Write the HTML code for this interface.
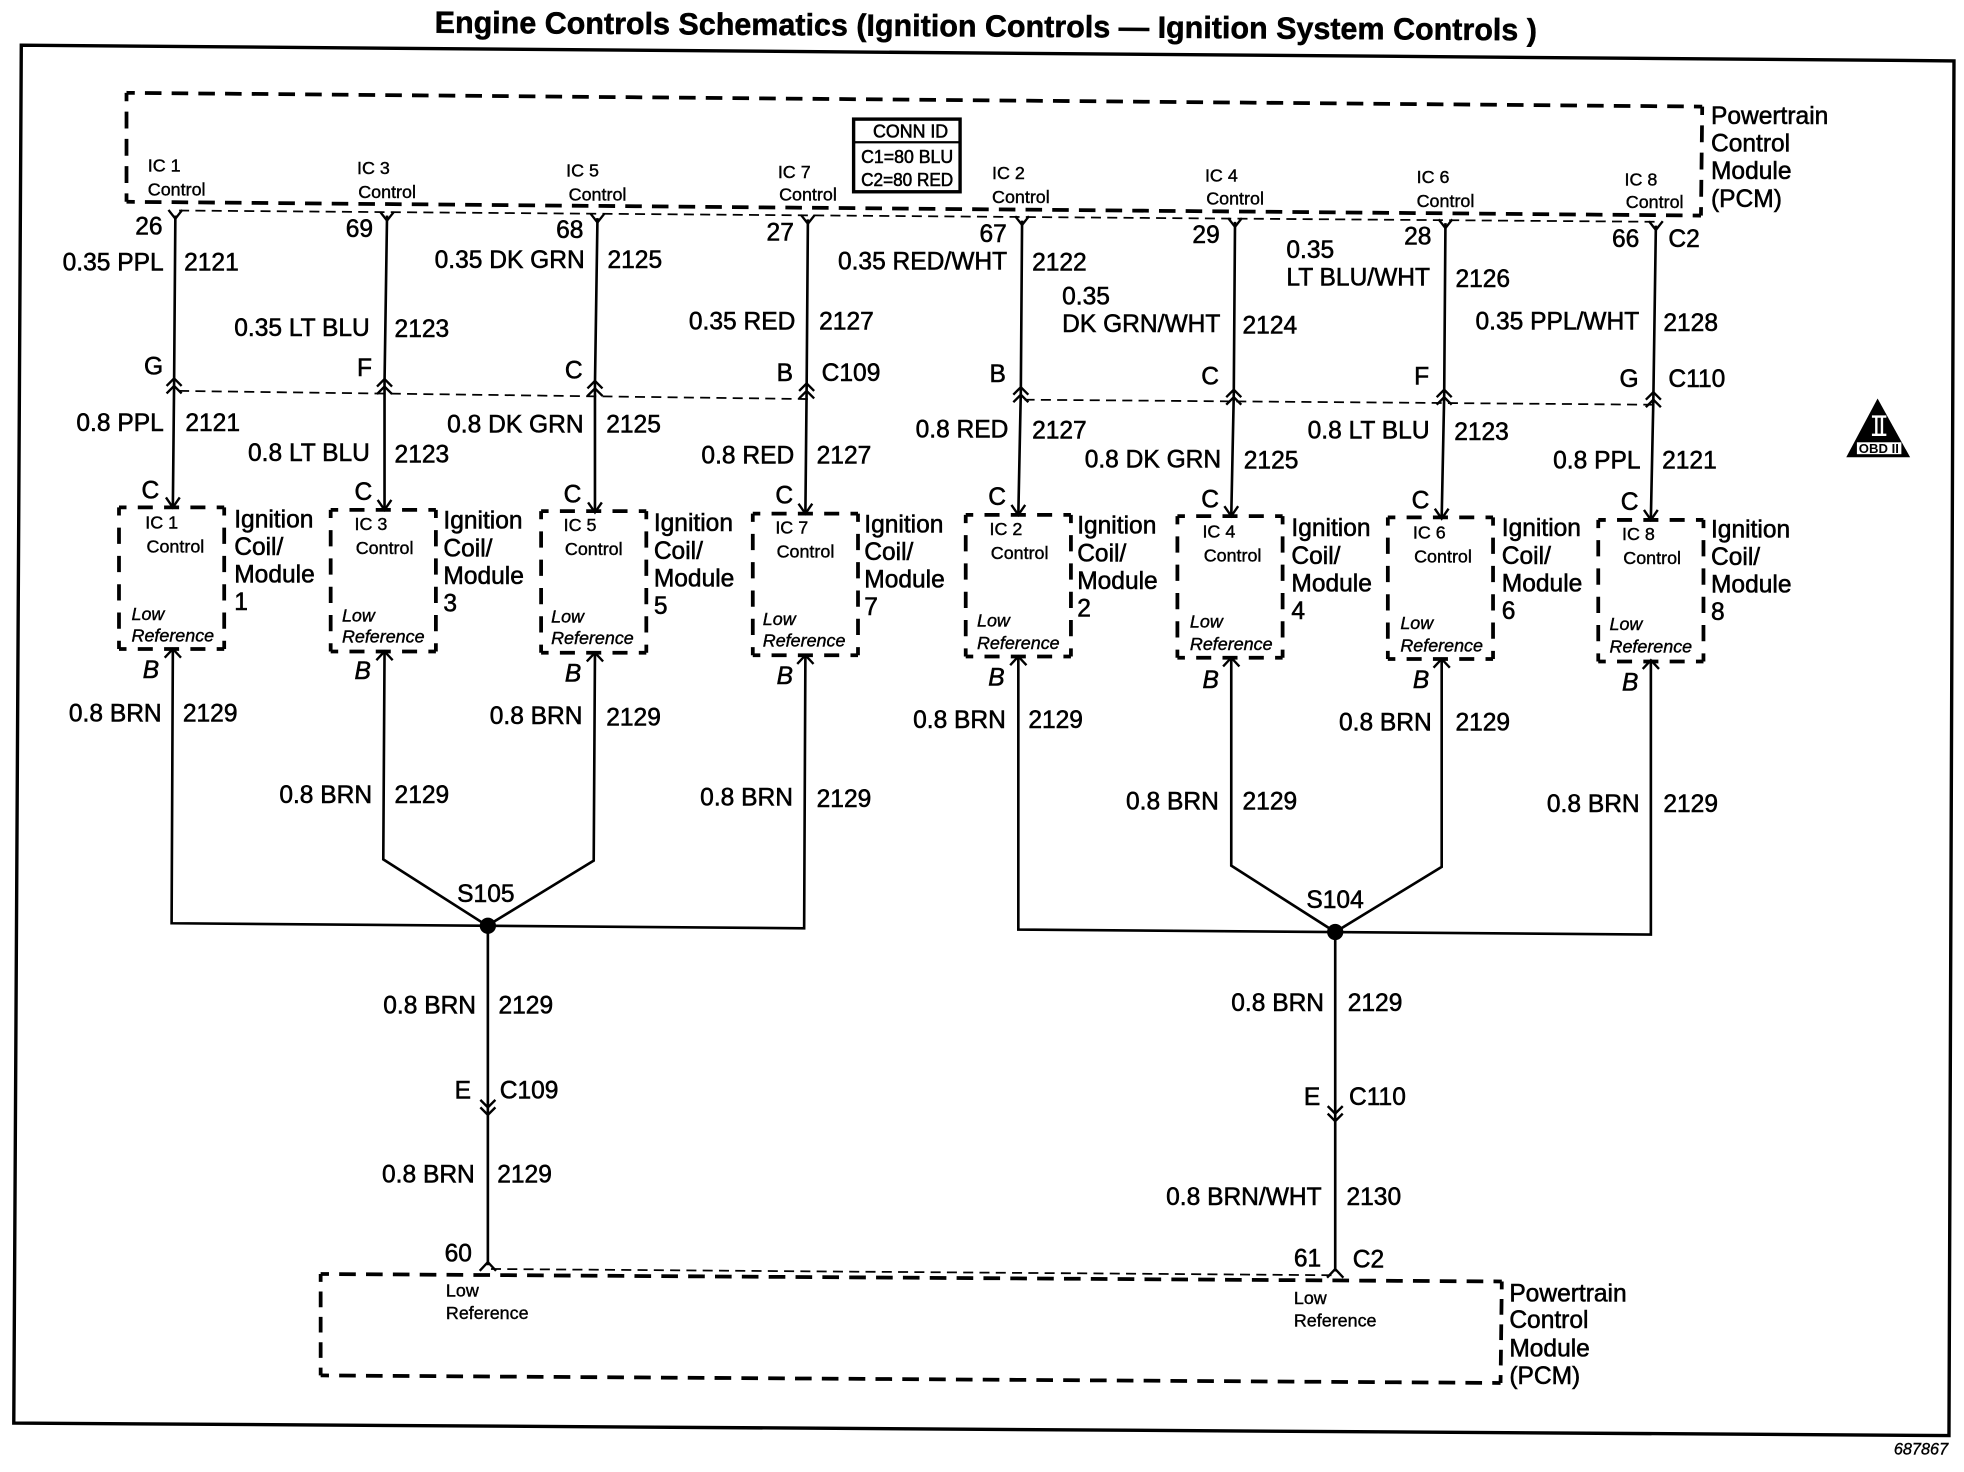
<!DOCTYPE html>
<html><head><meta charset="utf-8"><title>Engine Controls Schematics</title>
<style>
html,body{margin:0;padding:0;background:#fff}
svg{display:block}
text{font-family:"Liberation Sans",sans-serif;fill:#000;stroke:#000;stroke-width:.45}
.m text{font-size:19.6px}
.s text{font-size:14.3px;stroke-width:.32}
.i text{font-style:italic}
.w{fill:none;stroke:#000;stroke-width:2.1}
.d{fill:none;stroke:#000;stroke-width:3;stroke-dasharray:.62 .38;stroke-dashoffset:.31}
.h{fill:none;stroke:#000;stroke-width:3;stroke-dasharray:12 9;stroke-dashoffset:6}
.v{fill:none;stroke:#000;stroke-width:3;stroke-dasharray:13 9.6;stroke-dashoffset:6.5}
.t{fill:none;stroke:#000;stroke-width:1.4;stroke-dasharray:8 5}
.c{fill:none;stroke:#000;stroke-width:1.9}
</style></head><body>
<svg width="1964" height="1472" viewBox="0 0 1568 1175" xmlns="http://www.w3.org/2000/svg">
<defs>
<path id="fd" class="c" d="M-5.5,-7L0,0L5.5,-7"/>
<path id="fu" class="c" d="M-6.5,7L0,0L6.5,7"/>
<path id="ar" class="c" d="M-5.5,-8L0,0L5.5,-8"/>
<g id="up"><path class="c" d="M-6,6L0,0L6,6"/><path class="c" d="M-6,12L0,6L6,12"/></g>
<g id="dn"><path class="c" d="M-6,-6L0,0L6,-6"/><path class="c" d="M-6,0L0,6L6,0"/></g>
</defs>
<rect width="1568" height="1175" fill="#fff"/>
<text x="347" y="26" transform="rotate(.4 347 26)" textLength="880" lengthAdjust="spacingAndGlyphs" style="font-size:24.5px;font-weight:700;stroke-width:.4">Engine Controls Schematics (Ignition Controls — Ignition System Controls )</text>
<path d="M17,36L1560,48.5L1556,1146L11,1136Z" fill="none" stroke="#000" stroke-width="2.7"/>
<path class="d" pathLength="59" d="M101,74L1359,85"/>
<path class="d" pathLength="59" d="M101,161L1358,172"/>
<path class="d" pathLength="4" d="M101,74V161"/>
<path class="d" pathLength="4" d="M1359,85L1358,172"/>
<path class="d" pathLength="44" d="M256,1017L1199,1023"/>
<path class="d" pathLength="44" d="M256,1098L1198,1104"/>
<path class="d" pathLength="4" d="M256,1017V1098"/>
<path class="d" pathLength="4" d="M1199,1023L1198,1104"/>
<path class="t" d="M143,168L1325,177"/>
<path class="t" d="M143,312L645,318.5"/>
<path class="t" d="M818,319L1320,323"/>
<path class="t" d="M392,1013L1066,1018"/>
<path class="h" d="M95,405H179M95,518H179M264,407H348M264,520H348M432,408H516M432,521H516M601,410H685M601,523H685M771,411H855M771,524H855M940,412H1024M940,525H1024M1108,413H1192M1108,526H1192M1276,415H1360M1276,528H1360"/>
<path class="v" d="M95,405V518M179,405V518M264,407V520M348,407V520M432,408V521M516,408V521M601,410V523M685,410V523M771,411V524M855,411V524M940,412V525M1024,412V525M1108,413V526M1192,413V526M1276,415V528M1360,415V528"/>
<path class="w" d="M140,172L139,305L138,405"/>
<path class="w" d="M309,172L307,305L307,407"/>
<path class="w" d="M477,174L475,307L475,409"/>
<path class="w" d="M645,175L644,309L643,410"/>
<path class="w" d="M816,176L815,312L813,411"/>
<path class="w" d="M986,177L985,315L983,412"/>
<path class="w" d="M1154,178L1153,315L1151,413"/>
<path class="w" d="M1322,180L1320,318L1318,414"/>
<path class="w" d="M138,519L137,737L642,741L643,523"/>
<path class="w" d="M307,521L306,686L389,739L474,687L475,521"/>
<path class="w" d="M813,525L813,742L1318,746L1318,527"/>
<path class="w" d="M983,525L983,691L1066,744L1151,692L1151,526"/>
<path class="w" d="M389.5,739V1010"/>
<path class="w" d="M1066,744V1015"/>
<circle cx="389.5" cy="739" r="6.5"/>
<circle cx="1066" cy="744" r="6.5"/>
<use href="#fd" x="140" y="174.5"/><use href="#fd" x="309" y="176"/><use href="#fd" x="477" y="177.5"/><use href="#fd" x="645" y="178.5"/><use href="#fd" x="816" y="179.5"/><use href="#fd" x="986" y="181"/><use href="#fd" x="1154" y="182"/><use href="#fd" x="1322" y="183.5"/>
<use href="#up" x="139" y="302"/><use href="#up" x="307" y="302.5"/><use href="#up" x="475" y="304"/><use href="#up" x="644" y="306"/><use href="#up" x="815" y="309"/><use href="#up" x="985" y="311"/><use href="#up" x="1153" y="311"/><use href="#up" x="1320" y="313"/>
<use href="#ar" x="138" y="405"/><use href="#ar" x="307" y="407"/><use href="#ar" x="475" y="409"/><use href="#ar" x="643" y="410"/><use href="#ar" x="813" y="411"/><use href="#ar" x="983" y="412"/><use href="#ar" x="1151" y="414"/><use href="#ar" x="1318" y="415"/>
<use href="#fu" x="138" y="518"/><use href="#fu" x="307" y="520"/><use href="#fu" x="475" y="521"/><use href="#fu" x="643" y="523"/><use href="#fu" x="813" y="524"/><use href="#fu" x="983" y="525"/><use href="#fu" x="1151" y="526"/><use href="#fu" x="1318" y="527"/>
<use href="#dn" x="389.5" y="884"/><use href="#dn" x="1066" y="889"/>
<use href="#fu" x="389.5" y="1007.5"/><use href="#fu" x="1066" y="1013"/>
<rect x="681.5" y="95" width="85" height="58" fill="#fff" stroke="#000" stroke-width="2.7"/>
<path d="M682,113.5H767" stroke="#000" stroke-width="1.8"/>
<text x="697" y="109.5" textLength="60" lengthAdjust="spacingAndGlyphs" style="font-size:14.4px">CONN ID</text>
<text x="687.5" y="130" textLength="73.5" lengthAdjust="spacingAndGlyphs" style="font-size:14.4px">C1=80 BLU</text>
<text x="687.5" y="148.5" textLength="73.5" lengthAdjust="spacingAndGlyphs" style="font-size:14.4px">C2=80 RED</text>
<path d="M1499,318L1525,365H1474Z" fill="#000"/>
<path d="M1494.5,332.5H1506M1494.5,347H1506M1498,332V347M1502.5,332V347" stroke="#fff" stroke-width="1.9" fill="none"/>
<rect x="1482.5" y="353" width="35.5" height="9.5" fill="#fff"/>
<text x="1484" y="361.5" textLength="32" lengthAdjust="spacingAndGlyphs" style="font-size:10px;font-weight:700;stroke:none">OBD II</text>
<g class="m">
<text x="108" y="187">26</text><text x="276" y="189">69</text><text x="444" y="190">68</text><text x="612" y="192">27</text><text x="782" y="193">67</text><text x="952" y="194">29</text><text x="1121" y="195">28</text><text x="1287" y="197">66</text><text x="1332" y="197">C2</text>
<text x="50" y="216">0.35 PPL</text><text x="147" y="216">2121</text>
<text x="187" y="268">0.35 LT BLU</text><text x="315" y="269">2123</text>
<text x="347" y="214">0.35 DK GRN</text><text x="485" y="214">2125</text>
<text x="550" y="263">0.35 RED</text><text x="654" y="263">2127</text>
<text x="669" y="215">0.35 RED/WHT</text><text x="824" y="216">2122</text>
<text x="848" y="243">0.35</text><text x="848" y="265">DK GRN/WHT</text><text x="992" y="266">2124</text>
<text x="1027" y="206">0.35</text><text x="1027" y="228">LT BLU/WHT</text><text x="1162" y="229">2126</text>
<text x="1178" y="263">0.35 PPL/WHT</text><text x="1328" y="264">2128</text>
<text x="115" y="299">G</text><text x="285" y="300">F</text><text x="451" y="302">C</text><text x="620" y="304">B</text><text x="656" y="304">C109</text><text x="790" y="305">B</text><text x="959" y="307">C</text><text x="1129" y="307">F</text><text x="1293" y="309">G</text><text x="1332" y="309">C110</text>
<text x="61" y="344">0.8 PPL</text><text x="148" y="344">2121</text>
<text x="198" y="368">0.8 LT BLU</text><text x="315" y="369">2123</text>
<text x="357" y="345">0.8 DK GRN</text><text x="484" y="345">2125</text>
<text x="560" y="370">0.8 RED</text><text x="652" y="370">2127</text>
<text x="731" y="349">0.8 RED</text><text x="824" y="350">2127</text>
<text x="866" y="373">0.8 DK GRN</text><text x="993" y="374">2125</text>
<text x="1044" y="350">0.8 LT BLU</text><text x="1161" y="351">2123</text>
<text x="1240" y="374">0.8 PPL</text><text x="1327" y="374">2121</text>
<text x="113" y="398">C</text><text x="283" y="399">C</text><text x="450" y="401">C</text><text x="619" y="402">C</text><text x="789" y="403">C</text><text x="959" y="405">C</text><text x="1127" y="406">C</text><text x="1294" y="407">C</text>
<text x="187" y="421">Ignition</text><text x="187" y="443">Coil/</text><text x="187" y="465">Module</text><text x="187" y="487">1</text>
<text x="354" y="422">Ignition</text><text x="354" y="444">Coil/</text><text x="354" y="466">Module</text><text x="354" y="488">3</text>
<text x="522" y="424">Ignition</text><text x="522" y="446">Coil/</text><text x="522" y="468">Module</text><text x="522" y="490">5</text>
<text x="690" y="425">Ignition</text><text x="690" y="447">Coil/</text><text x="690" y="469">Module</text><text x="690" y="491">7</text>
<text x="860" y="426">Ignition</text><text x="860" y="448">Coil/</text><text x="860" y="470">Module</text><text x="860" y="492">2</text>
<text x="1031" y="428">Ignition</text><text x="1031" y="450">Coil/</text><text x="1031" y="472">Module</text><text x="1031" y="494">4</text>
<text x="1199" y="428">Ignition</text><text x="1199" y="450">Coil/</text><text x="1199" y="472">Module</text><text x="1199" y="494">6</text>
<text x="1366" y="429">Ignition</text><text x="1366" y="451">Coil/</text><text x="1366" y="473">Module</text><text x="1366" y="495">8</text>
<text x="55" y="576">0.8 BRN</text><text x="146" y="576">2129</text>
<text x="223" y="641">0.8 BRN</text><text x="315" y="641">2129</text>
<text x="391" y="578">0.8 BRN</text><text x="484" y="579">2129</text>
<text x="559" y="643">0.8 BRN</text><text x="652" y="644">2129</text>
<text x="729" y="581">0.8 BRN</text><text x="821" y="581">2129</text>
<text x="899" y="646">0.8 BRN</text><text x="992" y="646">2129</text>
<text x="1069" y="583">0.8 BRN</text><text x="1162" y="583">2129</text>
<text x="1235" y="648">0.8 BRN</text><text x="1328" y="648">2129</text>
<text x="365" y="720">S105</text><text x="1043" y="725">S104</text>
<text x="306" y="809">0.8 BRN</text><text x="398" y="809">2129</text>
<text x="363" y="877">E</text><text x="399" y="877">C109</text>
<text x="305" y="944">0.8 BRN</text><text x="397" y="944">2129</text>
<text x="355" y="1007">60</text>
<text x="983" y="807">0.8 BRN</text><text x="1076" y="807">2129</text>
<text x="1041" y="882">E</text><text x="1077" y="882">C110</text>
<text x="931" y="962">0.8 BRN/WHT</text><text x="1075" y="962">2130</text>
<text x="1033" y="1011">61</text><text x="1080" y="1012">C2</text>
<text x="1366" y="99">Powertrain</text><text x="1366" y="121">Control</text><text x="1366" y="143">Module</text><text x="1366" y="165">(PCM)</text>
<text x="1205" y="1039">Powertrain</text><text x="1205" y="1060">Control</text><text x="1205" y="1083">Module</text><text x="1205" y="1105">(PCM)</text>
</g>
<g class="m i">
<text x="114" y="541">B</text><text x="283" y="542">B</text><text x="451" y="544">B</text><text x="620" y="546">B</text><text x="789" y="547">B</text><text x="960" y="549">B</text><text x="1128" y="549">B</text><text x="1295" y="551">B</text>
</g>
<g class="s">
<text x="118" y="137">IC 1</text><text x="118" y="156">Control</text>
<text x="285" y="139">IC 3</text><text x="286" y="158">Control</text>
<text x="452" y="141">IC 5</text><text x="454" y="160">Control</text>
<text x="621" y="142">IC 7</text><text x="622" y="160">Control</text>
<text x="792" y="143">IC 2</text><text x="792" y="162">Control</text>
<text x="962" y="145">IC 4</text><text x="963" y="163">Control</text>
<text x="1131" y="146">IC 6</text><text x="1131" y="165">Control</text>
<text x="1297" y="148">IC 8</text><text x="1298" y="166">Control</text>
<text x="116" y="422">IC 1</text><text x="117" y="441">Control</text>
<text x="283" y="423">IC 3</text><text x="284" y="442">Control</text>
<text x="450" y="424">IC 5</text><text x="451" y="443">Control</text>
<text x="619" y="426">IC 7</text><text x="620" y="445">Control</text>
<text x="790" y="427">IC 2</text><text x="791" y="446">Control</text>
<text x="960" y="429">IC 4</text><text x="961" y="448">Control</text>
<text x="1128" y="430">IC 6</text><text x="1129" y="449">Control</text>
<text x="1295" y="431">IC 8</text><text x="1296" y="450">Control</text>
<text x="356" y="1035">Low</text><text x="356" y="1053">Reference</text>
<text x="1033" y="1041">Low</text><text x="1033" y="1059">Reference</text>
</g>
<g class="s i">
<text x="105" y="495">Low</text><text x="105" y="512">Reference</text>
<text x="273" y="496">Low</text><text x="273" y="513">Reference</text>
<text x="440" y="497">Low</text><text x="440" y="514">Reference</text>
<text x="609" y="499">Low</text><text x="609" y="516">Reference</text>
<text x="780" y="500">Low</text><text x="780" y="518">Reference</text>
<text x="950" y="501">Low</text><text x="950" y="519">Reference</text>
<text x="1118" y="502">Low</text><text x="1118" y="520">Reference</text>
<text x="1285" y="503">Low</text><text x="1285" y="521">Reference</text>
</g>
<text x="1512" y="1161" style="font-size:13px;stroke-width:.3;font-style:italic">687867</text>
</svg>
</body></html>
